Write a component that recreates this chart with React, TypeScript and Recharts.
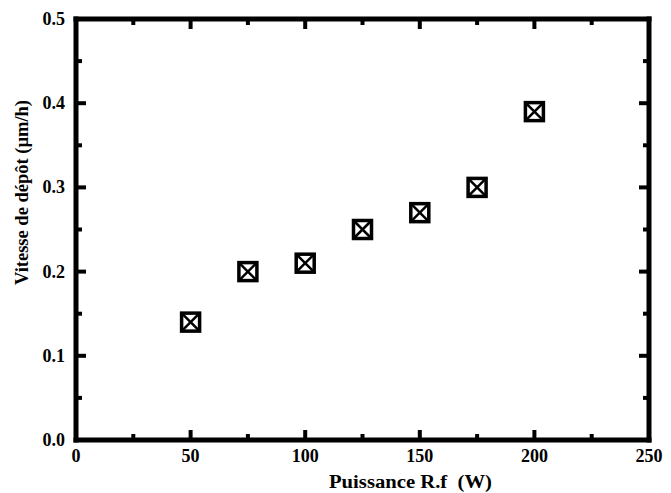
import React from 'react';
import { ScatterChart, Scatter, XAxis, YAxis } from 'recharts';

// Data
const powers = [50, 75, 100, 125, 150, 175, 200];
const rates = [0.14, 0.2, 0.21, 0.25, 0.27, 0.3, 0.39];

// Tick positions (major + minor)
const xTicks = [0, 25, 50, 75, 100, 125, 150, 175, 200, 225, 250];
const yTicks = [0, 0.05, 0.1, 0.15, 0.2, 0.25, 0.3, 0.35, 0.4, 0.45, 0.5];

const xTitle = 'Puissance R.f  (W)';
const yTitle = 'Vitesse de dépôt (µm/h)';

const data = powers.map((p, i) => ({ x: p, y: rates[i] }));

const FONT = "'Liberation Serif', 'Times New Roman', Times, serif";
const textStyle: React.CSSProperties = {
  fontFamily: FONT,
  fontWeight: 'bold',
  fontSize: 18,
  fill: '#000',
};

const MAJOR = 10;
const MINOR = 6;
const TICK_W = 4;

const BottomTick = (p: any) => {
  const { x, y, index, payload } = p;
  const major = index % 2 === 0;
  return (
    <g>
      <line x1={x} y1={y} x2={x} y2={y - (major ? MAJOR : MINOR)} stroke="#000" strokeWidth={TICK_W} />
      {major && (
        <text x={x} y={y + 22} textAnchor="middle" style={textStyle}>
          {payload.value}
        </text>
      )}
    </g>
  );
};

const TopTick = (p: any) => {
  const { x, y, index } = p;
  const major = index % 2 === 0;
  return <line x1={x} y1={y} x2={x} y2={y + (major ? MAJOR : MINOR)} stroke="#000" strokeWidth={TICK_W} />;
};

const LeftTick = (p: any) => {
  const { x, y, index, payload } = p;
  const major = index % 2 === 0;
  return (
    <g>
      <line x1={x} y1={y} x2={x + (major ? MAJOR : MINOR)} y2={y} stroke="#000" strokeWidth={TICK_W} />
      {major && (
        <text x={x - 11} y={y + 6} textAnchor="end" style={textStyle}>
          {Number(payload.value).toFixed(1)}
        </text>
      )}
    </g>
  );
};

const RightTick = (p: any) => {
  const { x, y, index } = p;
  const major = index % 2 === 0;
  return <line x1={x} y1={y} x2={x - (major ? MAJOR : MINOR)} y2={y} stroke="#000" strokeWidth={TICK_W} />;
};

const renderXTitle = (props: any) => {
  const vb = props.viewBox || { x: 76, y: 440, width: 573, height: 53 };
  const cx = vb.x + vb.width / 2 + 48;
  return (
    <text
      x={cx}
      y={vb.y + 48}
      textAnchor="middle"
      textLength={163}
      lengthAdjust="spacingAndGlyphs"
      style={{ ...textStyle, whiteSpace: 'pre' }}
    >
      {xTitle}
    </text>
  );
};

const renderYTitle = (props: any) => {
  const vb = props.viewBox || { x: 0, y: 19, width: 76, height: 421 };
  const cx = 22;
  const cy = vb.y + vb.height / 2 - 37;
  return (
    <text
      x={cx}
      y={cy}
      transform={`rotate(-90 ${cx} ${cy})`}
      textAnchor="middle"
      dominantBaseline="central"
      textLength={185}
      lengthAdjust="spacingAndGlyphs"
      style={textStyle}
    >
      {yTitle}
    </text>
  );
};

const BoxCross = (props: any) => {
  const { cx, cy } = props;
  const h = 9;
  return (
    <g>
      <rect x={cx - h} y={cy - h} width={2 * h} height={2 * h} fill="#fff" stroke="#000" strokeWidth={3.5} />
      <line x1={cx - h} y1={cy - h} x2={cx + h} y2={cy + h} stroke="#000" strokeWidth={2.5} />
      <line x1={cx - h} y1={cy + h} x2={cx + h} y2={cy - h} stroke="#000" strokeWidth={2.5} />
    </g>
  );
};

const Nothing = () => <g />;

const axisLine = { stroke: '#000', strokeWidth: 5, strokeLinecap: 'square' as const };

export default function App() {
  return (
    <div style={{ position: 'absolute', left: 0, top: 0, background: '#fff' }}>
      <ScatterChart width={671} height={493} margin={{ top: 18, right: 21, bottom: 0, left: 0 }}>
        <XAxis
          xAxisId={0}
          dataKey="x"
          type="number"
          domain={[0, 250]}
          ticks={xTicks}
          interval={0}
          height={53}
          tickSize={0}
          tickMargin={0}
          tickLine={false}
          axisLine={axisLine}
          tick={<BottomTick />}
          label={{ content: renderXTitle }}
        />
        <XAxis
          xAxisId="top"
          dataKey="x"
          orientation="top"
          type="number"
          domain={[0, 250]}
          ticks={xTicks}
          interval={0}
          height={1}
          tickSize={0}
          tickMargin={0}
          tickLine={false}
          axisLine={axisLine}
          tick={<TopTick />}
        />
        <YAxis
          yAxisId={0}
          dataKey="y"
          type="number"
          domain={[0, 0.5]}
          ticks={yTicks}
          interval={0}
          width={76}
          tickSize={0}
          tickMargin={0}
          tickLine={false}
          axisLine={axisLine}
          tick={<LeftTick />}
          label={{ content: renderYTitle }}
        />
        <YAxis
          yAxisId="right"
          dataKey="y"
          orientation="right"
          type="number"
          domain={[0, 0.5]}
          ticks={yTicks}
          interval={0}
          width={1}
          tickSize={0}
          tickMargin={0}
          tickLine={false}
          axisLine={axisLine}
          tick={<RightTick />}
        />
        <Scatter
          data={data}
          xAxisId="top"
          yAxisId="right"
          shape={<Nothing />}
          legendType="none"
          isAnimationActive={false}
        />
        <Scatter
          data={data}
          xAxisId={0}
          yAxisId={0}
          shape={<BoxCross />}
          isAnimationActive={false}
        />
      </ScatterChart>
    </div>
  );
}
